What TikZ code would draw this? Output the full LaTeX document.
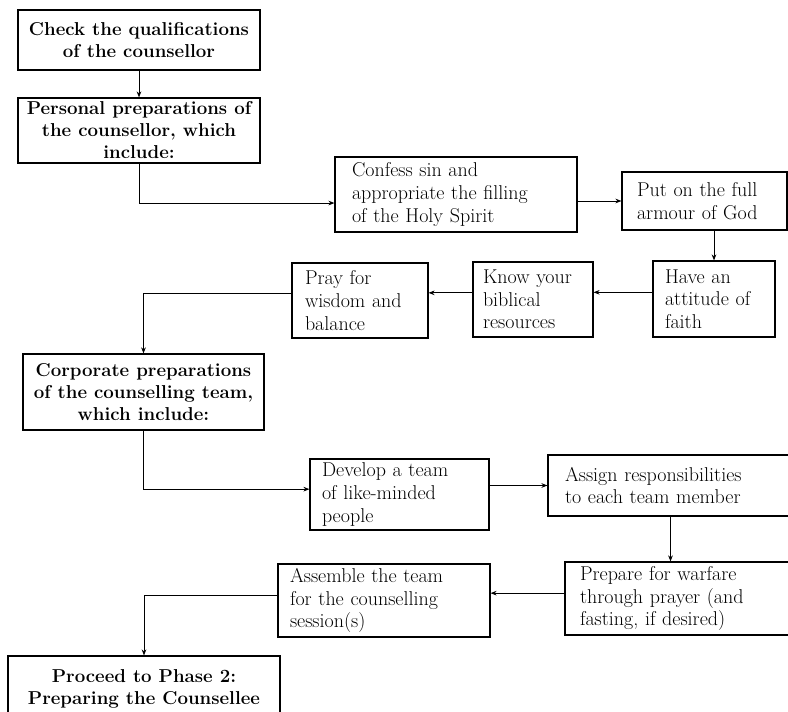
\documentclass[tikz,border=0pt]{standalone}
\usepackage{fontspec}
\usetikzlibrary{arrows.meta}
\tikzset{
  box/.style={draw, line width=0.9pt, inner ysep=0pt},
  hd/.style={box, font=\fontsize{14}{16.5}\selectfont\bfseries, align=center, inner xsep=3pt},
  lt/.style={box, font=\fontsize{15}{17}\selectfont, align=left},
  arr/.style={-{Stealth[length=4.5pt,width=3.5pt]}, line width=0.6pt}
}
\begin{document}
\begin{tikzpicture}[x=0.75pt,y=-0.75pt]
\clip (0,0) rectangle (788,712);
\fill[white] (0,0) rectangle (788,712);
% nodes
\node[hd, minimum width=181.5pt, minimum height=45pt] (b1) at (139,40) {Check the qualifications\\of the counsellor};
\node[hd, minimum width=181.5pt, minimum height=48.75pt] (b2) at (139,130.5) {Personal preparations of\\the counsellor, which\\include:};
\node[lt, minimum height=56.25pt, text width=156pt, inner xsep=12.75pt] (b3) at (456,194.5) {Confess sin and\\appropriate the filling\\of the Holy Spirit};
\node[lt, minimum height=43.5pt, text width=101.25pt, inner xsep=11.25pt] (b4) at (704.5,201) {Put on the full\\armour of God};
\node[lt, minimum height=57pt, text width=73.5pt, inner xsep=9pt] (b5) at (714,299) {Have an\\attitude of\\faith};
\node[lt, minimum height=56.25pt, text width=75pt, inner xsep=7.5pt] (b6) at (533,299.5) {Know your\\biblical\\resources};
\node[lt, minimum height=56.25pt, text width=82.5pt, inner xsep=9.75pt] (b7) at (360,300.5) {Pray for\\wisdom and\\balance};
\node[hd, minimum width=180.75pt, minimum height=57pt] (b8) at (143.5,392) {Corporate preparations\\of the counselling team,\\which include:};
\node[lt, minimum height=53.25pt, text width=116.25pt, inner xsep=9pt] (b9) at (399.5,494.5) {Develop a team\\of like-minded\\people};
\node[lt, minimum height=45.75pt, text width=163.5pt, inner xsep=12.75pt] (b10) at (674,485.5) {Assign responsibilities\\to each team member};
\node[lt, minimum height=54.75pt, text width=153.75pt, inner xsep=11.25pt] (b11) at (682.5,598.5) {Prepare for warfare\\through prayer (and\\fasting, if desired)};
\node[lt, minimum height=54.75pt, text width=141pt, inner xsep=9pt] (b12) at (384,600.5) {Assemble the team\\for the counselling\\session(s)};
\node[hd, minimum width=204pt, minimum height=49.5pt] (b13) at (144,689) {Proceed to Phase 2:\\Preparing the Counsellee};
% connectors
\draw[arr] (b1.south) -- (b2.north);
\draw[arr] (b2.south) |- ([yshift=-6.4pt]b3.west);
\draw[arr] (b3.east |- b4.west) -- (b4.west);
\draw[arr] (b4.south -| b5.north) -- (b5.north);
\draw[arr] ([yshift=5pt]b5.west) -- ([yshift=5pt]b5.west -| b6.east);
\draw[arr] ([yshift=5pt]b6.west) -- ([yshift=5pt]b6.west -| b7.east);
\draw[arr] ([yshift=5pt]b7.west) -| (b8.north);
\draw[arr] (b8.south) |- ([yshift=4pt]b9.west);
\draw[arr] (b9.east |- b10.west) -- (b10.west);
\draw[arr] ([xshift=-9pt]b11.north |- b10.south) -- ([xshift=-9pt]b11.north);
\draw[arr] ([yshift=4pt]b11.west) -- ([yshift=4pt]b11.west -| b12.east);
\draw[arr] ([yshift=4pt]b12.west) -| (b13.north);
\end{tikzpicture}
\end{document}
